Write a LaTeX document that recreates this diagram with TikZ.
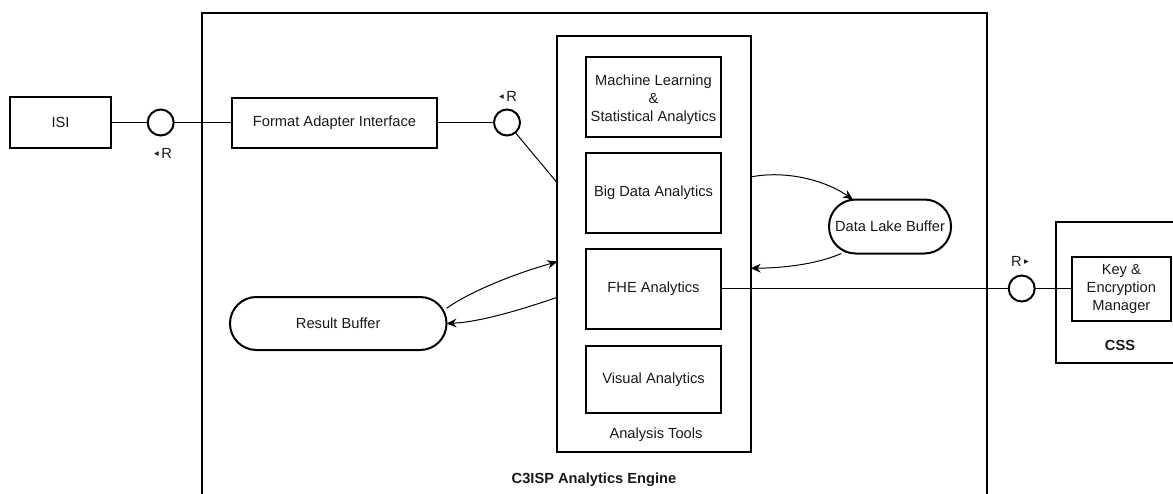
\documentclass[tikz,border=0pt]{standalone}
\usepackage{fontspec}
\setmainfont{Liberation Sans}
\newfontfamily\dejavu{DejaVu Sans}
\usetikzlibrary{arrows.meta,calc}
\newcommand\triL{\raisebox{1.2pt}{\dejavu\fontsize{7}{7}\selectfont ◂}}
\newcommand\triR{\raisebox{1.2pt}{\dejavu\fontsize{7}{7}\selectfont ▸}}
\begin{document}
\begin{tikzpicture}[x=0.75pt,y=-0.75pt,
  font=\fontsize{11}{13.5}\selectfont,
  box/.style={draw, line width=1.5pt, inner sep=0pt, outer sep=0pt, align=center, text=black!90},
  pill/.style={box, rounded corners=#1},
  port/.style={circle, draw, line width=1.5pt, minimum size=19.5pt, inner sep=0pt, outer sep=0pt},
  conn/.style={line width=0.75pt},
  arr/.style={conn, -{Stealth[length=7.5pt,width=6.5pt]}},
  plain/.style={inner sep=0pt, outer sep=0pt, text=black!90},
  boldlbl/.style={plain, font=\fontsize{11}{13.5}\selectfont\bfseries}
]
\clip (0,0) rectangle (1173,493);

% containers
\node[box, minimum width=588.75pt, minimum height=380.5pt] (engine) at (594,266.35) {};
\node[boldlbl] (enginelbl) at (594,480) {C3ISP Analytics Engine};

\node[box, minimum width=145pt, minimum height=312pt] (tools) at (654,243.7) {};
\node[plain] (toolslbl) at (656,435) {Analysis Tools};

\node[box, minimum width=100.5pt, minimum height=105.75pt] (css) at (1123,292.2) {};
\node[boldlbl] (csslbl) at (1120,345) {CSS};

% boxes
\node[box, minimum width=75.75pt, minimum height=38.25pt] (isi) at (60.5,122.5) {ISI};
\node[box, minimum width=153.75pt, minimum height=37.5pt] (fai) at (334.5,122.5) {Format Adapter Interface};

\node[box, minimum width=101.25pt, minimum height=60pt] (ml) at (653.5,97) {\rule{0pt}{12pt}Machine Learning\\\&\\Statistical Analytics};
\node[box, minimum width=101.25pt, minimum height=60pt] (bd) at (653.5,193) {Big Data Analytics};
\node[box, minimum width=101.25pt, minimum height=60pt] (fhe) at (653.5,288.5) {FHE Analytics};
\node[box, minimum width=101.25pt, minimum height=50.25pt] (va) at (653.5,379.5) {Visual Analytics};

\node[pill=20pt, minimum width=91.5pt, minimum height=40.5pt] (dl) at (890,226.5) {Data Lake Buffer};
\node[pill=19.8pt, minimum width=162.4pt, minimum height=39.75pt] (rb) at (338.25,323.5) {Result Buffer};

\node[box, minimum width=74.5pt, minimum height=48pt] (key) at (1121.35,288.5) {Key \&\\Encryption\\Manager};

% ports
\node[port] (c1) at (160.7,122.5) {};
\node[port] (c2) at (507,122.5) {};
\node[port] (c3) at (1021.7,288.5) {};
\node[plain] (c1lbl) at (163,153) {\triL\,R};
\node[plain] (c2lbl) at (508,96) {\triL\,R};
\node[plain] (c3lbl) at (1020,261) {R\,\triR};

% connectors
\draw[conn] (isi.east) -- (c1.west);
\draw[conn] (c1.east) -- (fai.west);
\draw[conn] (fai.east) -- (c2.west);
\draw[conn] (c2) -- (tools.west |- 0,183);
\draw[conn] (fhe.east) -- (c3.west);
\draw[conn] (c3.east) -- (key.west);

\draw[arr] (tools.east |- 0,177) .. controls (785,170) and (825,180) .. (dl.144);
\draw[arr] (dl.209) .. controls (815,265) and (780,268) .. (tools.east |- 0,268.3);
\draw[arr] (rb.8) .. controls (468,293) and (510,275) .. (tools.west |- 0,261.7);
\draw[arr] (tools.west |- 0,297.3) .. controls (520,310) and (480,322) .. (rb.east);
\end{tikzpicture}
\end{document}
